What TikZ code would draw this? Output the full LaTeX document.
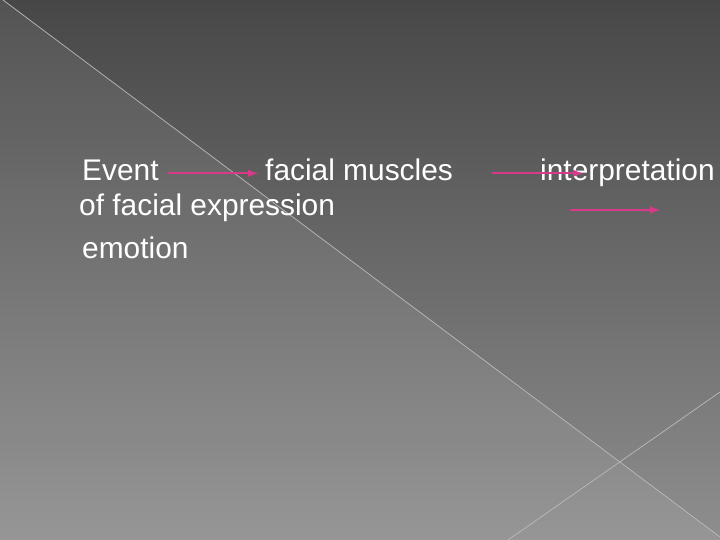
\documentclass[tikz,border=0pt]{standalone}
\usepackage{fontspec}
\setmainfont{Liberation Sans}
\usetikzlibrary{arrows}

\definecolor{slidetop}{HTML}{474747}
\definecolor{slidemid}{HTML}{616161}
\definecolor{slidebot}{HTML}{8E8E8E}
\definecolor{arrowpink}{HTML}{D83A8A}
\definecolor{rulegray}{HTML}{BABABA}

\begin{document}
\begin{tikzpicture}
  [x=1bp,y=1bp,every node/.style={text=white,inner sep=0pt,anchor=base west,font=\fontsize{30}{36}\selectfont},
   link/.style={->,>=latex,draw=arrowpink,line width=2.4bp},
   rule/.style={draw=rulegray,line width=0.7bp}]
  \useasboundingbox (0,0) rectangle (720,540);
  \shade[top color=slidetop,middle color=slidemid,bottom color=slidebot] (0,0) rectangle (720,540);
  \fill[white,opacity=0.07] (0,0) -- (0,540) -- (3,540) -- (720,3) -- (720,0) -- cycle;
  \draw[rule] (3,540) -- (720,3);
  \draw[rule] (720,148) -- (508,0);

  \node (ev) at (82,359) {Event};
  \node (fm) at (265,359) {facial muscles};
  \node (ip) at (540,359) {interpretation};
  \node (fe) at (79,324) {of facial expression};
  \node (em) at (82,281) {emotion};

  \coordinate (a1s) at (168,366.7);
  \coordinate (a1e) at (258,366.7);
  \coordinate (a2s) at (492,366.7);
  \coordinate (a2e) at (583,366.7);
  \coordinate (a3s) at (570,330);
  \coordinate (a3e) at (660,330);

  \foreach \from/\to in {a1s/a1e,a2s/a2e,a3s/a3e}
    \draw[link] (\from) -- (\to);

\end{tikzpicture}
\end{document}
